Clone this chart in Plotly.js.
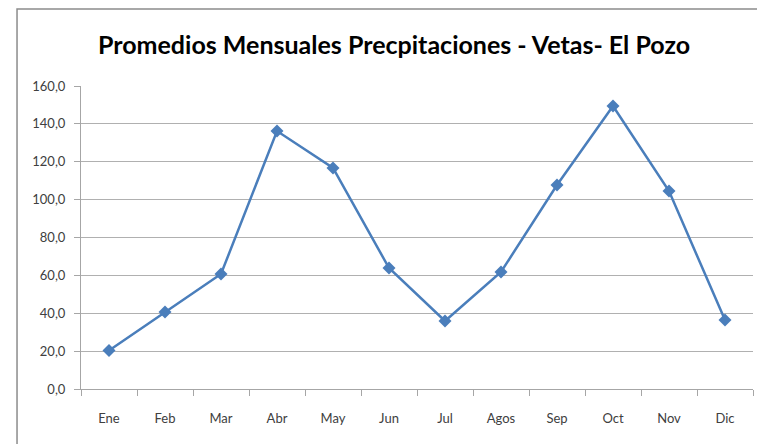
<!DOCTYPE html>
<html>
<head>
<meta charset="utf-8">
<script src="https://cdn.plot.ly/plotly-3.0.1.min.js"></script>
<style>html,body{margin:0;padding:0;background:#fff;}#chart{width:757px;height:444px;}</style>
</head>
<body>
<div id="chart"></div>
<script>
const months = ["Ene","Feb","Mar","Abr","May","Jun","Jul","Agos","Sep","Oct","Nov","Dic"];
const precip = [20.3, 40.7, 60.7, 136.2, 116.7, 63.9, 35.9, 61.8, 107.7, 149.4, 104.5, 36.4];
const yTicks = [0, 20, 40, 60, 80, 100, 120, 140, 160];
const titleText = "Promedios Mensuales Precpitaciones - Vetas- El Pozo";

const fontFam = "Lato, 'Open Sans', sans-serif";

const trace = {
  x: months,
  y: precip,
  type: 'scatter',
  mode: 'lines+markers',
  line: {color: '#4a7ebb', width: 2.5},
  marker: {symbol: 'diamond', size: 10, color: '#4a7ebb'},
  hoverinfo: 'x+y'
};

const layout = {
  width: 757,
  height: 444,
  margin: {l: 81, r: 4, t: 86, b: 55},
  paper_bgcolor: '#ffffff',
  plot_bgcolor: '#ffffff',
  separators: ',.',
  showlegend: false,
  title: {
    text: titleText,
    font: {family: fontFam, size: 25, color: '#000000', weight: 'bold'},
    x: 0.5205, xanchor: 'center',
    y: 1 - 45 / 444, yanchor: 'middle',
    yref: 'container'
  },
  xaxis: {
    type: 'category',
    range: [-0.5, 11.5],
    showgrid: false,
    showline: true,
    linecolor: '#a6a6a6',
    linewidth: 1,
    ticks: 'outside',
    tickson: 'boundaries',
    ticklen: 6,
    tickcolor: '#a6a6a6',
    ticklabelstandoff: 17,
    tickfont: {family: fontFam, size: 13, color: '#404040'},
    zeroline: false,
    fixedrange: true
  },
  yaxis: {
    range: [0, 160],
    tickvals: yTicks,
    tickformat: '.1f',
    showgrid: true,
    gridcolor: '#b0b0b0',
    gridwidth: 1,
    showline: true,
    linecolor: '#a6a6a6',
    linewidth: 1,
    ticks: 'outside',
    ticklen: 6,
    tickcolor: '#a6a6a6',
    ticklabelstandoff: 6,
    tickfont: {family: fontFam, size: 13, color: '#404040'},
    zeroline: false,
    fixedrange: true
  },
  shapes: [
    {type: 'rect', xref: 'paper', yref: 'paper',
     x0: -0.0952, x1: 1.2, y0: -0.3, y1: 1.254,
     line: {color: '#8c8c8c', width: 1.5}, fillcolor: 'rgba(0,0,0,0)', layer: 'below'}
  ]
};

Plotly.newPlot('chart', [trace], layout, {displayModeBar: false, staticPlot: true});
</script>
</body>
</html>
